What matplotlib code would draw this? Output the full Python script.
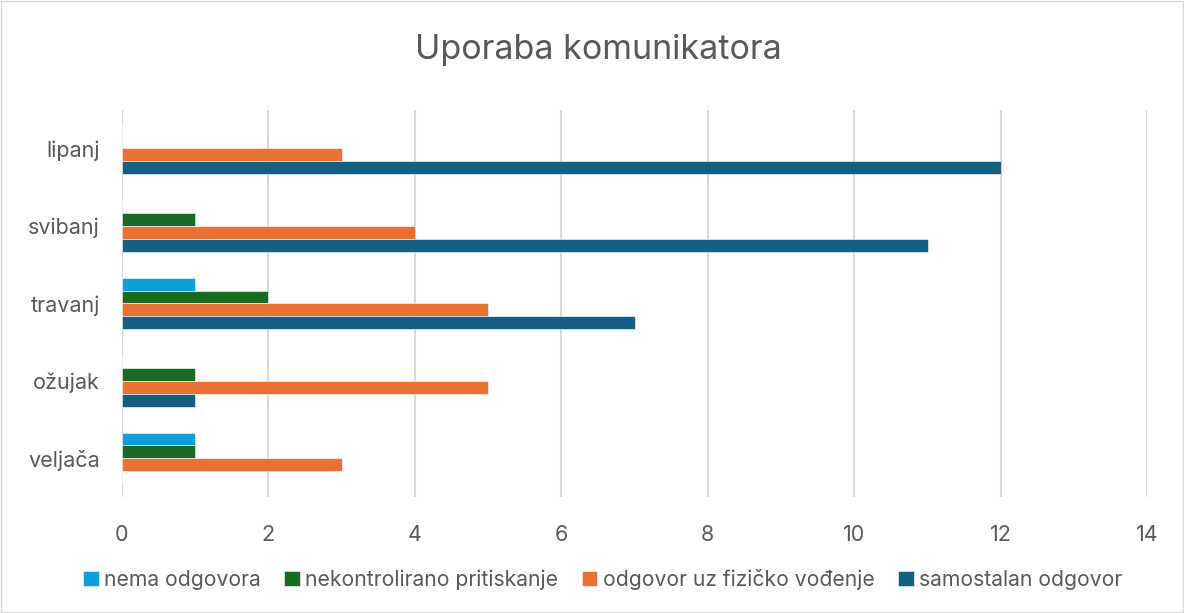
import numpy as np
import matplotlib.pyplot as plt

months = ["veljača", "ožujak", "travanj", "svibanj", "lipanj"]
series = ["nema odgovora", "nekontrolirano pritiskanje",
          "odgovor uz fizičko vođenje", "samostalan odgovor"]
nema = [1, 0, 1, 0, 0]
nekontrolirano = [1, 1, 2, 1, 0]
fizicko = [3, 5, 5, 4, 3]
samostalan = [0, 1, 7, 11, 12]
colors = ["#0F9ED5", "#196B24", "#E97132", "#156082"]

plt.rcParams['font.family'] = ['Inter', 'DejaVu Sans']
text_color = "#595959"

fig = plt.figure(figsize=(11.84, 6.13), dpi=100)
ax = fig.add_axes([0.103, 0.189, 0.866, 0.632])

y = np.arange(len(months))
h = 1 / 6
values = [nema, nekontrolirano, fizicko, samostalan]
offsets = [1.5 * h, 0.5 * h, -0.5 * h, -1.5 * h]
for vals, off, col, name in zip(values, offsets, colors, series):
    ax.barh(y + off, vals, height=h, color=col, label=name,
            edgecolor="white", linewidth=0.4, zorder=3)

ax.set_xlim(0, 14)
ax.set_ylim(-0.5, len(months) - 0.5)
ax.set_xticks(range(0, 15, 2))
ax.set_yticks(y)
ax.set_yticklabels(months)
ax.grid(axis="x", color="#D9D9D9", linewidth=1.5, zorder=0)
for s in ax.spines.values():
    s.set_visible(False)
ax.tick_params(length=0, labelsize=15.5, colors=text_color)
ax.tick_params(axis="x", pad=20)
ax.tick_params(axis="y", pad=16)

fig.suptitle("Uporaba komunikatora", x=0.505, y=0.945, fontsize=24.5, color=text_color)

ax.legend(loc="center", bbox_to_anchor=(0.509, 0.055), bbox_transform=fig.transFigure,
          ncol=4, frameon=False, fontsize=15.2, labelcolor=text_color,
          handlelength=0.75, handleheight=0.75, handletextpad=0.25, columnspacing=1.1)

fig.patches.append(plt.Rectangle((0.001, 0.002), 0.998, 0.996, transform=fig.transFigure,
                                 fill=False, edgecolor="#D9D9D9", linewidth=1))

fig.savefig("out.png", dpi=100)
